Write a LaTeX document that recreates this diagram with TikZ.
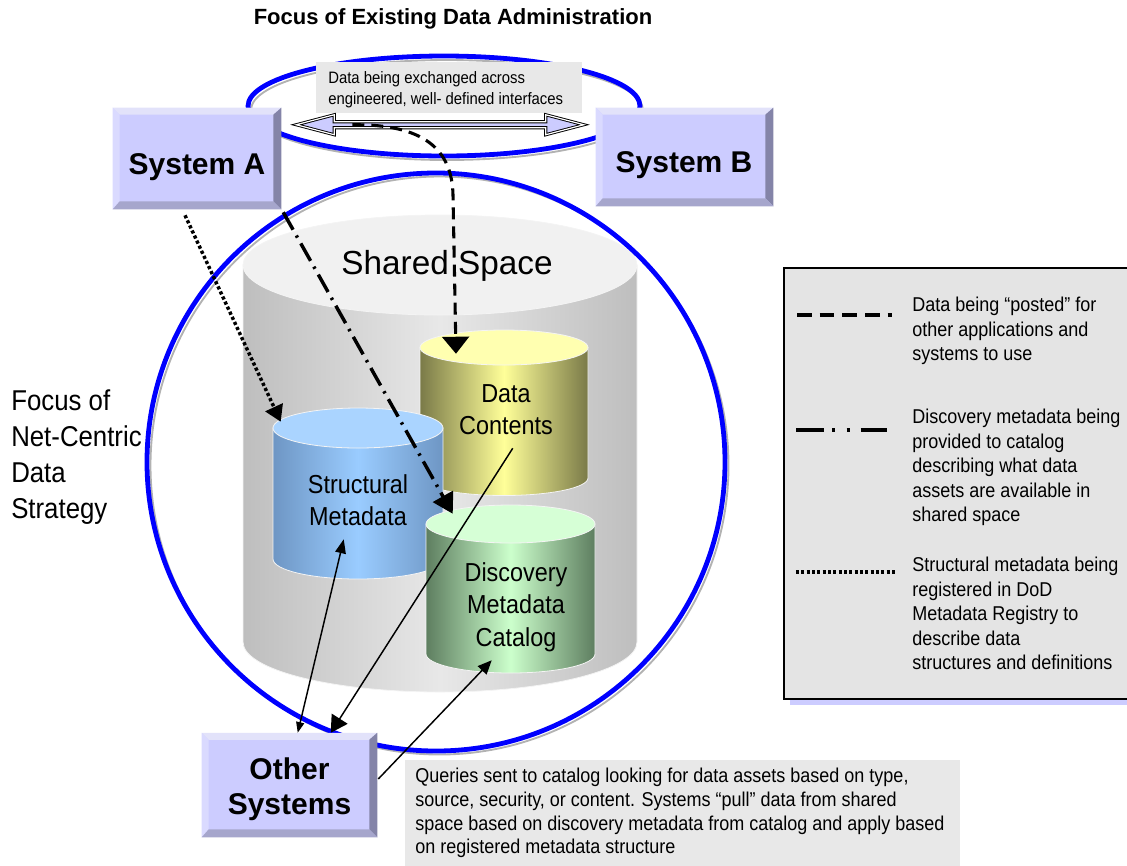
\documentclass[tikz,border=0pt]{standalone}
\usepackage{fontspec}
\setmainfont{Liberation Sans}
\newfontfamily\narrowsans[FakeStretch=0.9]{Liberation Sans}
\usetikzlibrary{arrows.meta,calc,fit}

\definecolor{face}{HTML}{CCCCFF}
\definecolor{bvtop}{HTML}{E2E2FA}
\definecolor{bvleft}{HTML}{DADAFF}
\definecolor{bvright}{HTML}{8484A8}
\definecolor{bvbottom}{HTML}{A6A6CC}
\definecolor{ringblue}{HTML}{0000FF}
\definecolor{notegray}{HTML}{E8E8E8}
\definecolor{leggray}{HTML}{E4E4E4}
\definecolor{cylrim}{HTML}{F4F4F4}
% cylinder palettes: edge / middle / lid
\definecolor{shEdgeL}{HTML}{BEBEBE}
\definecolor{shMid}{HTML}{E8E8E8}
\definecolor{shLid}{HTML}{F1F1F1}
\definecolor{dcEdge}{HTML}{7A7A48}
\definecolor{dcMid}{HTML}{FFFF99}
\definecolor{dcLid}{HTML}{FFFFB0}
\definecolor{smEdge}{HTML}{6E96C4}
\definecolor{smMid}{HTML}{9ACCFF}
\definecolor{smLid}{HTML}{AAD4FF}
\definecolor{dmEdge}{HTML}{5E7E60}
\definecolor{dmMid}{HTML}{CCFFCC}
\definecolor{dmLid}{HTML}{D6FFD6}

% #1 cx, #2 lid centre y, #3 base centre y, #4 rx, #5 ry, #6 edge, #7 middle, #8 lid
\newcommand{\drawcyl}[8]{%
  \path[left color=#6,right color=#6,middle color=#7,draw=cylrim,line width=0.6pt]
    (#1-#4,#2) -- (#1-#4,#3) arc[start angle=180,end angle=0,x radius=#4,y radius=#5]
    -- (#1+#4,#2) -- cycle;
  \path[fill=#8,draw=cylrim,line width=0.6pt] (#1,#2) ellipse[x radius=#4,y radius=#5];
}

% bevelled edges of a button node
\newcommand{\btnbevel}[1]{%
  \fill[bvtop] (#1.north west) -- (#1.north east) -- ($(#1.north east)+(-8,7)$) -- ($(#1.north west)+(7,7)$) -- cycle;
  \fill[bvleft] (#1.north west) -- ($(#1.north west)+(7,7)$) -- ($(#1.south west)+(7,-8)$) -- (#1.south west) -- cycle;
  \fill[bvright] (#1.north east) -- (#1.south east) -- ($(#1.south east)+(-8,-8)$) -- ($(#1.north east)+(-8,7)$) -- cycle;
  \fill[bvbottom] (#1.south west) -- (#1.south east) -- ($(#1.south east)+(-8,-8)$) -- ($(#1.south west)+(7,-8)$) -- cycle;
}

\begin{document}
\begin{tikzpicture}[x=0.75pt,y=-0.75pt,
  btn/.style={fill=face,inner sep=0pt,draw=none},
  box/.style={inner sep=0pt,draw=none},
  btntext/.style={font=\bfseries\fontsize{22.5}{26.25}\selectfont,align=center,inner sep=0pt},
  cyllbl/.style={font=\narrowsans\fontsize{19.5}{24.4}\selectfont,align=center,inner sep=0pt},
  legtext/.style={font=\narrowsans\fontsize{15}{18.4}\selectfont,align=left,inner sep=0pt,anchor=north west},
  posted/.style={line width=2.3pt,dash pattern=on 9pt off 5.3pt,
    -{Triangle[length=12.75pt,width=20pt]}},
  discov/.style={line width=2.6pt,dash pattern=on 15pt off 5pt on 1.8pt off 5pt,
    -{Triangle[length=15pt,width=17pt]}},
  structl/.style={line width=2.6pt,dash pattern=on 2.4pt off 1.8pt,
    -{Triangle[length=12pt,width=14pt]}},
  thinln/.style={line width=1.1pt},
  ring/.style={draw=ringblue,line width=3.6pt},
  ringshadow/.style={draw=black!30,line width=1.4pt}
]
\useasboundingbox (0,0) rectangle (1127,865);
\clip (0,0) rectangle (1127,865);

% shared space container
\drawcyl{440}{265}{642}{197}{50}{shEdgeL}{shMid}{shLid}
\node[box,fit={(243,215) (637,692)}] (shared) {};
\node[font=\fontsize{25}{30}\selectfont,inner sep=0pt,anchor=base] (sslabel) at (447,274) {Shared Space};

% focus rings with their soft shadow
\draw[ringshadow] (447,110) ellipse[x radius=196,y radius=50];
\draw[ring] (444,106) ellipse[x radius=196,y radius=50];
\draw[ringshadow] (439.5,465.5) circle[radius=289];
\draw[ring] (436,462) circle[radius=289];

% interface note
\node[box,fill=notegray,fit={(316,62) (582,113)}] (ifbox) {};
\node[font=\narrowsans\fontsize{12.4}{15.75}\selectfont,align=left,inner sep=0pt,anchor=north west]
  (iftext) at (328,71) {Data being exchanged across\\engineered, well- defined interfaces};

% systems A and B
\node[btn,fit={(113,108) (281,209)}] (sysA) {};
\btnbevel{sysA}
\node[btntext,anchor=base] (sysAtext) at (197,174) {System A};
\node[btn,fit={(596,108) (773,206)}] (sysB) {};
\btnbevel{sysB}
\node[btntext,anchor=base] (sysBtext) at (684,172) {System B};

% inner stores
\drawcyl{504}{347.5}{478}{84}{17.5}{dcEdge}{dcMid}{dcLid}
\node[box,fit={(420,330) (588,496)}] (dataC) {};
\node[cyllbl,anchor=north] (dctext) at (506,384) {Data\\Contents};

\drawcyl{358}{428}{559}{85}{20}{smEdge}{smMid}{smLid}
\node[box,fit={(273,408) (443,579)}] (smeta) {};
\node[cyllbl,anchor=north] (smtext) at (358,474) {Structural\\Metadata};

\drawcyl{510.5}{524}{654}{84.5}{19}{dmEdge}{dmMid}{dmLid}
\node[box,fit={(426,505) (595,673)}] (dmeta) {};
\node[cyllbl,anchor=north] (dmtext) at (516,562) {Discovery\\Metadata\\Catalog};

% other systems
\node[btn,fit={(202,733) (377,837)}] (other) {};
\btnbevel{other}
\node[btntext,anchor=north] (othertext) at (289.5,757) {Other\\Systems};

% interface exchange between A and B
\coordinate (ab1) at ($(sysA.north east)+(15,17)$);
\coordinate (ab2) at ($(sysB.north west)+(-12,17)$);
\draw[fill=face,draw=black,line width=0.7pt,double=white,double distance=0.9pt]
  (ab1) -- ++(38,-10) -- ++(0,7) -- ($(ab2)+(-38,-3)$) -- ++(0,-7) -- (ab2)
  -- ++(-38,10) -- ++(0,-7) -- ($(ab1)+(38,3)$) -- ++(0,7) -- cycle;

% data posted to the shared space
\coordinate (postsrc) at ($(ab1)+(56,0)$);
\draw[posted] (postsrc) .. controls (425,124) and (452,150) .. (453,195)
  -- ($(dataC.north)+(-48,24)$);

% discovery metadata to the catalog
\draw[discov] ($(sysA.south east)+(2,3)$) -- ($(dmeta.north west)+(27,9)$);

% structural metadata to the registry
\draw[structl] ($(sysA.south)+(-12,6)$) -- ($(smeta.north west)+(8,14)$);

% queries and pulls from other systems
\draw[thinln,{Triangle[length=8pt,width=6pt]}-{Triangle[length=10.5pt,width=8pt]}]
  ($(other.north west)+(96,0)$) -- ($(smeta.south west)+(71,-40)$);
\draw[thinln,-{Triangle[length=12.5pt,width=14pt]}]
  ($(dataC.south west)+(93,-48)$) -- ($(other.north west)+(129,0)$);
\draw[thinln,-{Triangle[length=10.5pt,width=9pt]}]
  ($(other.east)+(1,-6)$) -- ($(dmeta.south west)+(66,-13)$);

% legend
\fill[face] (790,699) rectangle (1131,705);
\node[box,fill=leggray,draw=black,line width=2.2pt,fit={(784,268) (1134,699)}] (legend) {};
\draw[line width=3pt,dash pattern=on 11pt off 6pt] (797,315) -- (892,315);
\draw[line width=3pt,dash pattern=on 21pt off 6pt on 2.5pt off 8.5pt on 2.5pt off 8pt] (796,430) -- (887,430);
\draw[line width=3pt,dash pattern=on 2.3pt off 1.7pt] (796,572) -- (895,572);
\node[legtext] (leg1) at (912,297) {Data being “posted” for\\other applications and\\systems to use};
\node[legtext] (leg2) at (912,409) {Discovery metadata being\\provided to catalog\\describing what data\\assets are available in\\shared space};
\node[legtext] (leg3) at (912,557) {Structural metadata being\\registered in DoD\\Metadata Registry to\\describe data\\structures and definitions};

% query note
\node[box,fill=notegray,fit={(405,760) (960,866)}] (qbox) {};
\node[font=\narrowsans\fontsize{15}{17.8}\selectfont,align=left,inner sep=0pt,anchor=north west]
  (qtext) at (415,768) {Queries sent to catalog looking for data assets based on type,\\source, security, or content. Systems “pull” data from shared\\space based on discovery metadata from catalog and apply based\\on registered metadata structure};

% headings
\node[font=\bfseries\fontsize{16.5}{20}\selectfont,inner sep=0pt] (title) at (453,19) {Focus of Existing Data Administration};
\node[font=\narrowsans\fontsize{21.5}{27}\selectfont,align=left,inner sep=0pt,anchor=north west]
  (ncds) at (11,389) {Focus of\\Net-Centric\\Data\\Strategy};
\end{tikzpicture}
\end{document}
